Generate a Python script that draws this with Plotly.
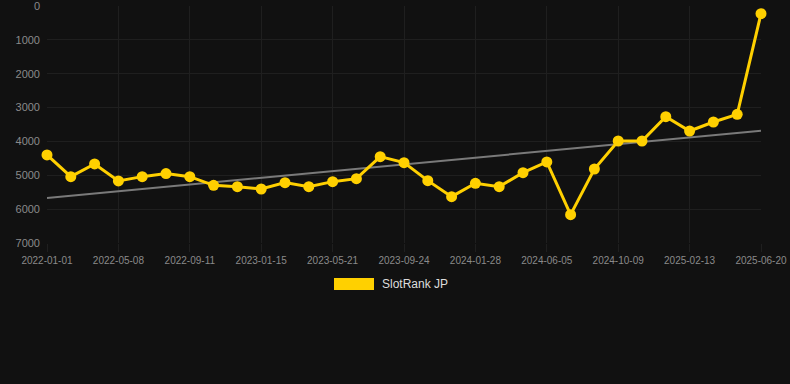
import plotly.graph_objects as go

dates = [
    "2022-01-01", "2022-02-12", "2022-03-26", "2022-05-08", "2022-06-19", "2022-07-31",
    "2022-09-11", "2022-10-23", "2022-12-04", "2023-01-15", "2023-02-26", "2023-04-09",
    "2023-05-21", "2023-07-02", "2023-08-13", "2023-09-24", "2023-11-05", "2023-12-17",
    "2024-01-28", "2024-03-10", "2024-04-22", "2024-06-05", "2024-07-17", "2024-08-28",
    "2024-10-09", "2024-11-20", "2025-01-01", "2025-02-13", "2025-03-27", "2025-05-08",
    "2025-06-20",
]
ranks = [
    4400, 5040, 4666, 5168, 5040, 4950, 5040, 5296, 5336, 5405, 5217, 5336,
    5188, 5100, 4450, 4627, 5158, 5631, 5237, 5336, 4922, 4607, 6162, 4814,
    3987, 3987, 3268, 3692, 3426, 3200, 226,
]
trend_dates = [dates[0], dates[-1]]
trend_values = [5670, 3685]
tick_labels = dates[::3]
y_ticks = [0, 1000, 2000, 3000, 4000, 5000, 6000, 7000]
series_name = "SlotRank JP"

GOLD = "#FFD000"
BG = "#111111"
GRID = "#1f1f1f"

fig = go.Figure()
fig.add_trace(go.Scatter(
    x=trend_dates, y=trend_values, mode="lines",
    line=dict(color="#7a7a7a", width=2),
    hoverinfo="skip", showlegend=False, cliponaxis=False,
))
fig.add_trace(go.Scatter(
    x=dates, y=ranks, mode="lines+markers", name=series_name,
    line=dict(color=GOLD, width=3),
    marker=dict(color=GOLD, size=11),
    showlegend=False, cliponaxis=False,
))

fig.update_layout(
    width=790, height=384,
    margin=dict(l=47, r=29, t=6, b=141, autoexpand=False),
    paper_bgcolor=BG, plot_bgcolor=BG,
    font=dict(family="Liberation Sans, Arial, sans-serif", color="#8a8a8a"),
    xaxis=dict(
        type="category", categoryorder="array", categoryarray=dates,
        range=[0, len(dates) - 1], automargin=False,
        tickmode="array", tickvals=tick_labels, ticktext=tick_labels,
        tickfont=dict(size=10, color="#8a8a8a"),
        showgrid=True, gridcolor=GRID, gridwidth=1,
        ticks="outside", ticklen=8, tickcolor=GRID,
        zeroline=False, showline=False, ticklabeloverflow="allow",
    ),
    yaxis=dict(
        range=[7000, 0], tickvals=y_ticks, automargin=False,
        tickfont=dict(size=11, color="#8a8a8a"),
        showgrid=True, gridcolor=GRID, gridwidth=1,
        zeroline=False, showline=False, ticklabelstandoff=6,
        ticklabeloverflow="allow",
    ),
    shapes=[dict(
        type="rect", xref="paper", yref="paper",
        x0=287 / 714, x1=327 / 714, y0=-47 / 237, y1=-35 / 237,
        fillcolor=GOLD, line=dict(width=0),
    )],
    annotations=[dict(
        xref="paper", yref="paper", x=333 / 714, y=-41 / 237,
        xanchor="left", yanchor="middle", showarrow=False,
        text=series_name, font=dict(size=12, color="#dddddd"),
    )],
    hovermode=False,
)

fig.write_html(
    "out.html",
    config={"displayModeBar": False},
    post_script="document.body.style.margin='0';document.body.style.background='#111111';",
)
